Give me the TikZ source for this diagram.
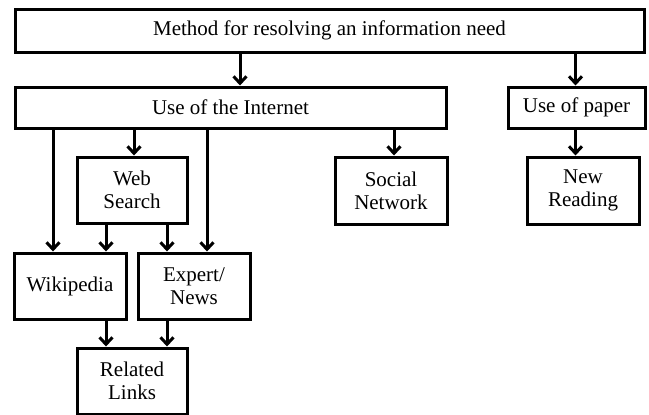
\documentclass[tikz,border=0pt]{standalone}
\usepackage{fontspec}
\setmainfont{Liberation Serif}
\usepackage{tikz}
\usetikzlibrary{arrows.meta}

\begin{document}
\begin{tikzpicture}[
  x=1pt, y=-1pt,
  font=\fontsize{21}{23}\selectfont,
  box/.style={draw,line width=3pt,align=center,minimum height=66pt,minimum width=112pt,inner sep=2pt},
  arr/.style={-{Straight Barb[length=7pt,width=13pt]},line width=3pt}
]
\useasboundingbox (0,0) rectangle (649,415);
% levels
\node[box, minimum width=629pt, minimum height=43pt] (need) at (329.5,30.5) {Method for resolving an information need};
\node[box, minimum width=431pt, minimum height=41pt] (inet) at (230.5,107.5) {Use of the Internet};
\node[box, minimum width=137pt, minimum height=41pt] (paper) at (576.5,107.5) {Use of paper};
\node[box, minimum width=110pt] (web) at (132,190) {Web\\Search};
\node[box, minimum height=67pt] (social) at (391,190.5) {Social\\Network};
\node[box, minimum height=67pt] (reading) at (583,190.5) {New\\Reading};
\node[box] (wiki) at (70,286) {Wikipedia};
\node[box] (expert) at (194,286) {Expert/\\News};
\node[box, minimum width=110pt] (links) at (132,381) {Related\\Links};
% arrow columns
\coordinate (xa) at (240,0);
\coordinate (xb) at (575.5,0);
\coordinate (xc) at (53,0);
\coordinate (xd) at (134,0);
\coordinate (xe) at (207,0);
\coordinate (xf) at (394,0);
\coordinate (xg) at (106,0);
\coordinate (xh) at (167,0);
\draw[arr] (need.south -| xa)--(inet.north -| xa);
\draw[arr] (need.south -| xb)--(paper.north -| xb);
\draw[arr] (inet.south -| xc)--(wiki.north -| xc);
\draw[arr] (inet.south -| xd)--(web.north -| xd);
\draw[arr] (inet.south -| xe)--(expert.north -| xe);
\draw[arr] (inet.south -| xf)--(social.north -| xf);
\draw[arr] (paper.south -| xb)--(reading.north -| xb);
\draw[arr] (web.south -| xg)--(wiki.north -| xg);
\draw[arr] (web.south -| xh)--(expert.north -| xh);
\draw[arr] (wiki.south -| xg)--(links.north -| xg);
\draw[arr] (expert.south -| xh)--(links.north -| xh);
\end{tikzpicture}
\end{document}
